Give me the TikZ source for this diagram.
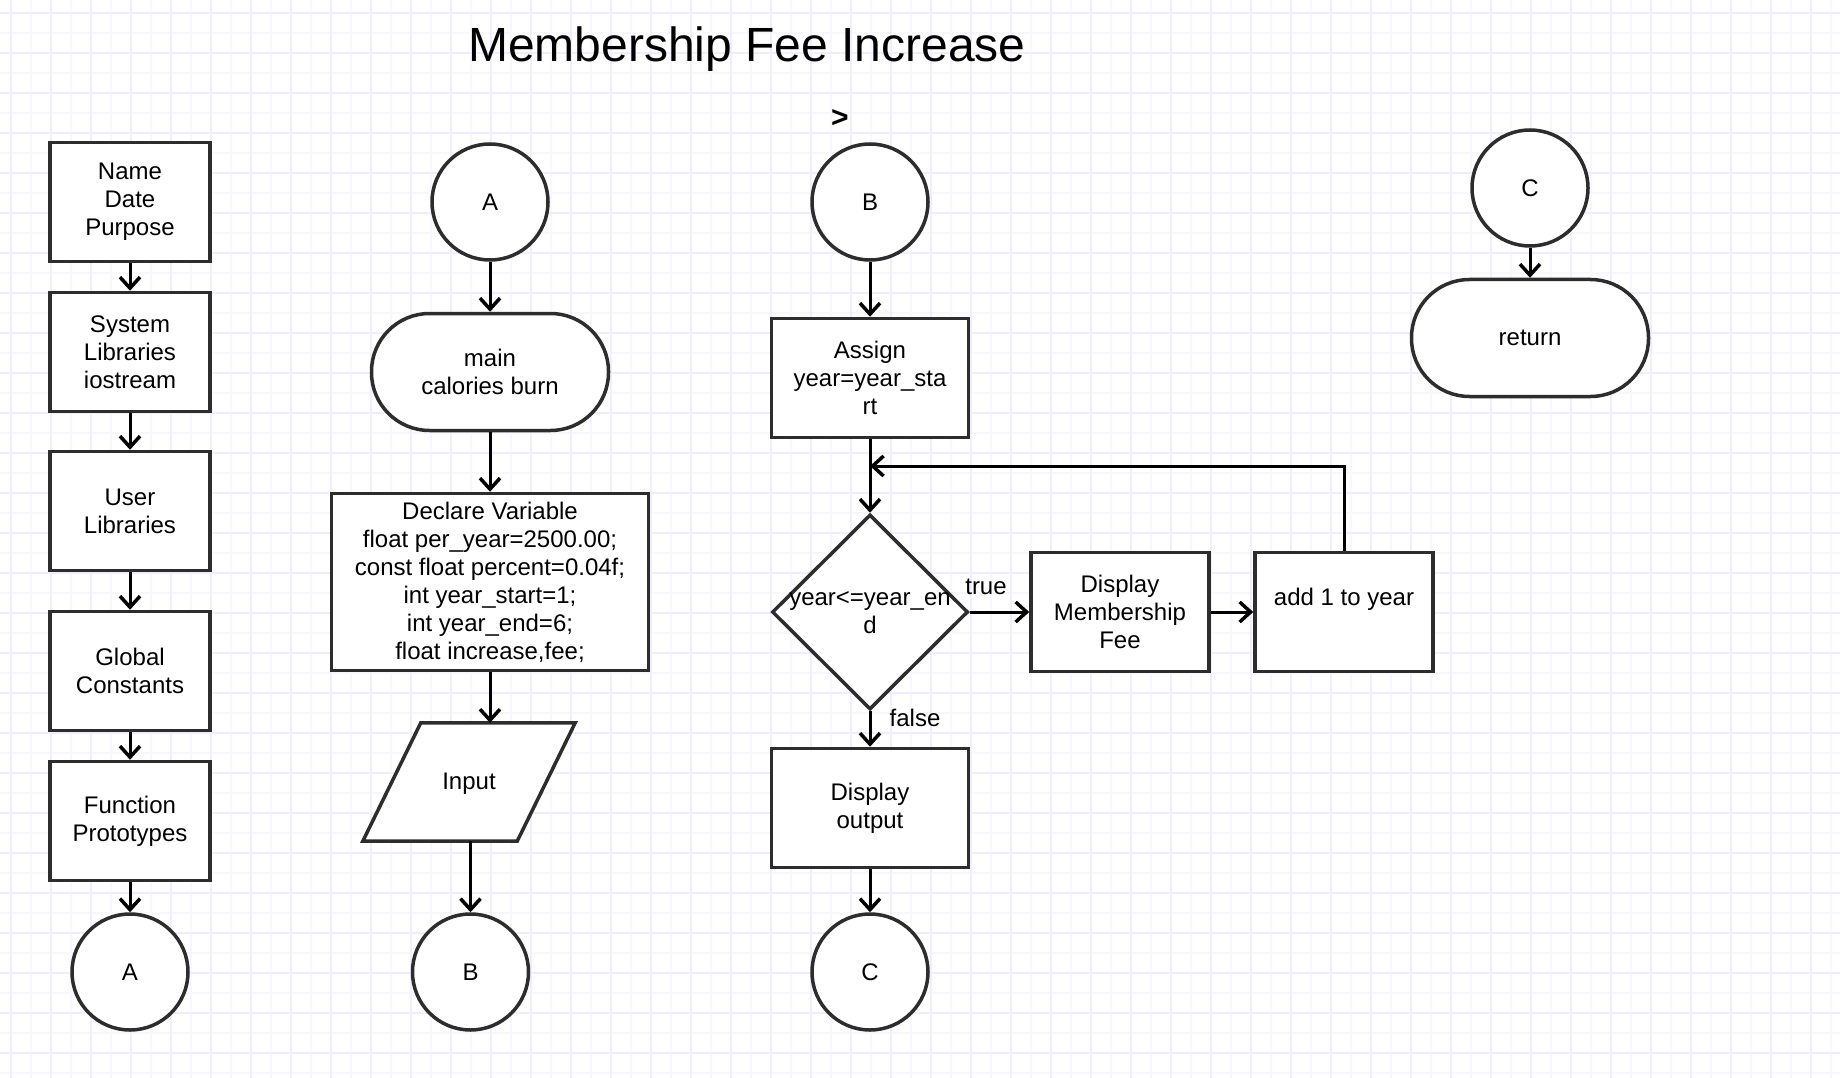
\documentclass[tikz,border=0pt]{standalone}
\usepackage{fontspec}
\setmainfont{Liberation Sans}
\usetikzlibrary{arrows.meta,shapes.geometric}
\definecolor{boxc}{RGB}{45,45,45}
\definecolor{gridminor}{RGB}{247,247,255}
\definecolor{gridmajor}{RGB}{238,238,254}
\newcommand\myfont{\fontsize{24pt}{28pt}\selectfont}
\tikzset{
  box/.style={draw=boxc, line width=3.5pt, fill=white, minimum width=160pt, minimum height=119pt, align=center, font=\myfont, inner sep=0pt},
  circ/.style={circle, draw=boxc, line width=3.5pt, fill=white, minimum size=116pt, inner sep=0pt, font=\myfont},
  term/.style={draw=boxc, line width=3.5pt, fill=white, rounded corners=58pt, minimum width=237pt, minimum height=117pt, align=center, font=\myfont, inner sep=0pt},
  txt/.style={align=center, font=\myfont, inner sep=0pt},
  arr/.style={line width=3pt, draw=black, -{Straight Barb[length=11pt,width=20pt,line width=3.5pt]}},
}
\begin{document}
\begin{tikzpicture}[x=1pt,y=-1pt]
\fill[white] (0,0) rectangle (1840,1078);
\begin{scope}
\clip (0,0) rectangle (1840,1078);
\foreach \x in {30.7,70.7,...,1840} \draw[gridminor, line width=2pt] (\x,0) -- (\x,1078);
\foreach \y in {33.3,73.3,...,1078} \draw[gridminor, line width=2pt] (0,\y) -- (1840,\y);
\foreach \x in {10.7,50.7,...,1840} \draw[gridmajor, line width=2pt] (\x,0) -- (\x,1078);
\foreach \y in {13.3,53.3,...,1078} \draw[gridmajor, line width=2pt] (0,\y) -- (1840,\y);
\end{scope}
\useasboundingbox (0,0) rectangle (1840,1078);

% title
\node[anchor=base, font=\fontsize{48pt}{56pt}\selectfont, inner sep=0pt] (title) at (747,62) {Membership Fee Increase};
\node[font=\fontsize{30pt}{34pt}\selectfont\bfseries, inner sep=0pt] (gt) at (840,118) {>};

% column 1
\node[box] (n1) at (130,202) {Name\\Date\\Purpose};
\node[box] (n2) at (130,352) {System\\Libraries\\iostream};
\node[box] (n3) at (130,511) {User\\Libraries};
\node[box] (n4) at (130,671) {Global\\Constants};
\node[box] (n5) at (130,821) {Function\\Prototypes};
\node[circ] (A1) at (130,972) {A};
\draw[arr] (n1) -- (n2);
\draw[arr] (n2) -- (n3);
\draw[arr] (n3) -- (n4);
\draw[arr] (n4) -- (n5);
\draw[arr] (n5) -- (A1);

% column 2
\node[circ] (A2) at (490,202) {A};
\node[term] (main) at (490,372) {main\\calories burn};
\node[box, minimum width=317pt, minimum height=177pt] (decl) at (490,582) {Declare Variable\\float per\_year=2500.00;\\const float percent=0.04f;\\int year\_start=1;\\int year\_end=6;\\float increase,fee;};
\node[minimum width=212pt, minimum height=118pt, inner sep=0pt] (inp) at (469,782) {};
\draw[draw=boxc, line width=3.5pt, fill=white, line join=miter]
  ([xshift=58pt]inp.north west) -- (inp.north east) -- ([xshift=-58pt]inp.south east) -- (inp.south west) -- cycle;
\node[txt] (inptxt) at ([yshift=-2pt]inp.center) {Input};
\node[circ] (B2) at (470.5,972) {B};
\draw[arr] (A2) -- (main);
\draw[arr] (main) -- (decl);
\draw[arr] (decl.south) -- (decl.south |- inp.north);
\draw[arr] (B2.north |- inp.south) -- (B2);

% column 3
\node[circ] (B3) at (870,202) {B};
\node[box, minimum width=197pt] (assign) at (870,378) {Assign\\year=year\_sta\\rt};
\node[diamond, draw=boxc, line width=3.5pt, fill=white, minimum width=196pt, minimum height=195pt, inner sep=0pt] (dec) at (870,612) {};
\node[txt] (dectxt) at ([yshift=-1pt]dec.center) {year<=year\_en\\d};
\node[box, minimum width=178pt] (disp) at (1120,612) {Display\\Membership\\Fee};
\node[box, minimum width=178pt] (add) at (1344,612) {};
\node[txt] (addtxt) at ([yshift=13pt]add.center) {add 1 to year};
\node[box, minimum width=197pt] (outp) at (870,808) {Display\\output};
\node[circ] (C3) at (870,972) {C};
\coordinate (loopend) at (870,466);
\node[txt] (truelbl) at (986,587) {true};
\node[txt] (falselbl) at (915,718) {false};
\draw[arr] (B3) -- (assign);
\draw[arr] (assign) -- (dec);
\draw[arr] (dec) -- (disp);
\draw[arr] (disp) -- (add);
\draw[arr] (add.north) |- (loopend);
\draw[arr] (dec) -- (outp);
\draw[arr] (outp) -- (C3);

% column 4
\node[circ] (C4) at (1530,188) {C};
\node[term] (ret) at (1530,338) {return};
\draw[arr] (C4) -- (ret);
\end{tikzpicture}
\end{document}
